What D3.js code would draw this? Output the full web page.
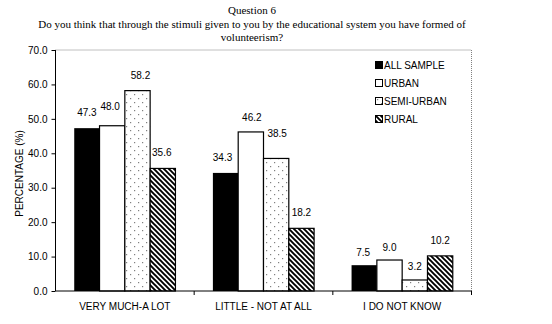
<!DOCTYPE html>
<html><head><meta charset="utf-8">
<script src="https://cdn.jsdelivr.net/npm/d3@7"></script>
<style>body{margin:0;background:#fff}svg{display:block}</style>
</head><body>
<svg id="c" width="552" height="324"></svg>
<script>
const categories = ["VERY MUCH-A LOT", "LITTLE - NOT AT ALL", "I DO NOT KNOW"];
const seriesNames = ["ALL SAMPLE", "URBAN", "SEMI-URBAN", "RURAL"];
const allSample = [47.3, 34.3, 7.5];
const urban = [48.0, 46.2, 9.0];
const semiUrban = [58.2, 38.5, 3.2];
const rural = [35.6, 18.2, 10.2];
const yTicks = [0, 10, 20, 30, 40, 50, 60, 70];
const titleLines = ["Question 6",
  "Do you think that through the stimuli given to you by the educational system you have formed of",
  "volunteerism?"];
const yTitle = "PERCENTAGE (%)";
// label nudges (dx, dy) per series per category
const labelNudgeX = [[0, -3, -1], [-2, 1, 0], [3, 1, 0], [-1, 0, 0]];
const labelNudgeY = [[0, 0, 3], [-4, 1, 3], [0, -9, 2], [0, 0, 0]];

(function () {
const values = [allSample, urban, semiUrban, rural];
const svg = d3.select("#c");
const defs = svg.append("defs");
const dots = defs.append("pattern").attr("id", "dots").attr("patternUnits", "userSpaceOnUse")
  .attr("width", 8).attr("height", 8);
dots.append("rect").attr("width", 8).attr("height", 8).attr("fill", "#fff");
dots.append("rect").attr("x", 2).attr("y", 2).attr("width", 1.2).attr("height", 1.2).attr("fill", "#808080");
dots.append("rect").attr("x", 6).attr("y", 6).attr("width", 1.2).attr("height", 1.2).attr("fill", "#808080");
const hatch = defs.append("pattern").attr("id", "hatch").attr("patternUnits", "userSpaceOnUse")
  .attr("width", 5).attr("height", 5);
hatch.append("rect").attr("width", 5).attr("height", 5).attr("fill", "#fff");
hatch.append("path").attr("d", "M-1,-1 L6,6 M-3.5,1.5 L1.5,6.5 M1.5,-3.5 L6.5,1.5")
  .attr("stroke", "#000").attr("stroke-width", 1.9);
const fills = ["#000", "#fff", "url(#dots)", "url(#hatch)"];

const pl = 55.5, pr = 471.5, pt = 50, pb = 291;
const x0 = d3.scaleBand().domain(categories).range([pl, pr]);
const x1 = d3.scaleBand().domain(seriesNames).range([0, x0.bandwidth()]).paddingOuter(0.74);
const y = d3.scaleLinear().domain([0, 70]).range([pb, pt]);

// title
const tt = svg.append("g").attr("font-family", "'Liberation Serif', 'Times New Roman', serif")
  .attr("font-size", 11).attr("text-anchor", "middle").attr("fill", "#000");
titleLines.forEach((t, i) => tt.append("text").attr("x", 252).attr("y", 14 + i * 13.5).text(t));

// plot border (top & right)
svg.append("path").attr("d", `M${pl},${pt}H${pr}V${pb}`).attr("fill", "none")
  .attr("stroke", "#808080").attr("stroke-width", 1).attr("stroke-dasharray", "1,1");

// bars
const g = svg.append("g");
seriesNames.forEach((s, si) => {
  g.selectAll(null).data(categories).enter().append("rect")
    .attr("x", c => x0(c) + x1(s))
    .attr("y", (c, ci) => y(values[si][ci]))
    .attr("width", x1.bandwidth())
    .attr("height", (c, ci) => y(0) - y(values[si][ci]))
    .attr("fill", fills[si])
    .attr("stroke", "#000").attr("stroke-width", si === 0 ? 0 : 1.2);
});

// axes
const yAxis = d3.axisLeft(y).tickValues(yTicks).tickFormat(d3.format(".1f")).tickSize(4).tickPadding(4);
const ya = svg.append("g").attr("transform", `translate(${pl},0)`).call(yAxis);
ya.select(".domain").attr("d", `M0,${pt}V${pb}`);
const xa = svg.append("g").attr("transform", `translate(0,${pb})`);
xa.append("line").attr("x1", pl).attr("x2", pr).attr("stroke", "#000");
xa.selectAll(".tk").data(categories).enter().append("line")
  .attr("x1", c => x0(c) + x0.bandwidth()).attr("x2", c => x0(c) + x0.bandwidth())
  .attr("y1", 0).attr("y2", 4).attr("stroke", "#000");
xa.selectAll(".lb").data(categories).enter().append("text")
  .attr("x", c => x0(c) + x0.bandwidth() / 2).attr("y", 19)
  .attr("text-anchor", "middle").text(c => c);
[ya, xa].forEach(a => a.attr("font-family", "'Liberation Sans', Arial, sans-serif").attr("font-size", 10));
ya.selectAll("text").attr("fill", "#000");
ya.selectAll("line").attr("stroke", "#000");

svg.append("text").attr("transform", `translate(23,${(pt + pb) / 2 + 3}) rotate(-90)`)
  .attr("text-anchor", "middle").attr("font-family", "'Liberation Sans', Arial, sans-serif")
  .attr("font-size", 10).text(yTitle);

// value labels
const vl = svg.append("g").attr("font-family", "'Liberation Sans', Arial, sans-serif")
  .attr("font-size", 10).attr("text-anchor", "middle");
seriesNames.forEach((s, si) => {
  vl.selectAll(null).data(categories).enter().append("text")
    .attr("x", (c, ci) => x0(c) + x1(s) + x1.bandwidth() / 2 + labelNudgeX[si][ci])
    .attr("y", (c, ci) => y(values[si][ci]) - 12 + labelNudgeY[si][ci])
    .text((c, ci) => d3.format(".1f")(values[si][ci]));
});

// legend
const lg = svg.append("g").attr("font-family", "'Liberation Sans', Arial, sans-serif").attr("font-size", 10);
seriesNames.forEach((s, i) => {
  const row = lg.append("g").attr("transform", `translate(375,${61 + i * 18})`);
  row.append("rect").attr("x", 0.5).attr("y", 0.5).attr("width", 7).attr("height", 7)
    .attr("fill", fills[i]).attr("stroke", "#000");
  row.append("text").attr("x", 9).attr("y", 8).text(s);
});
})();
</script>
</body></html>
